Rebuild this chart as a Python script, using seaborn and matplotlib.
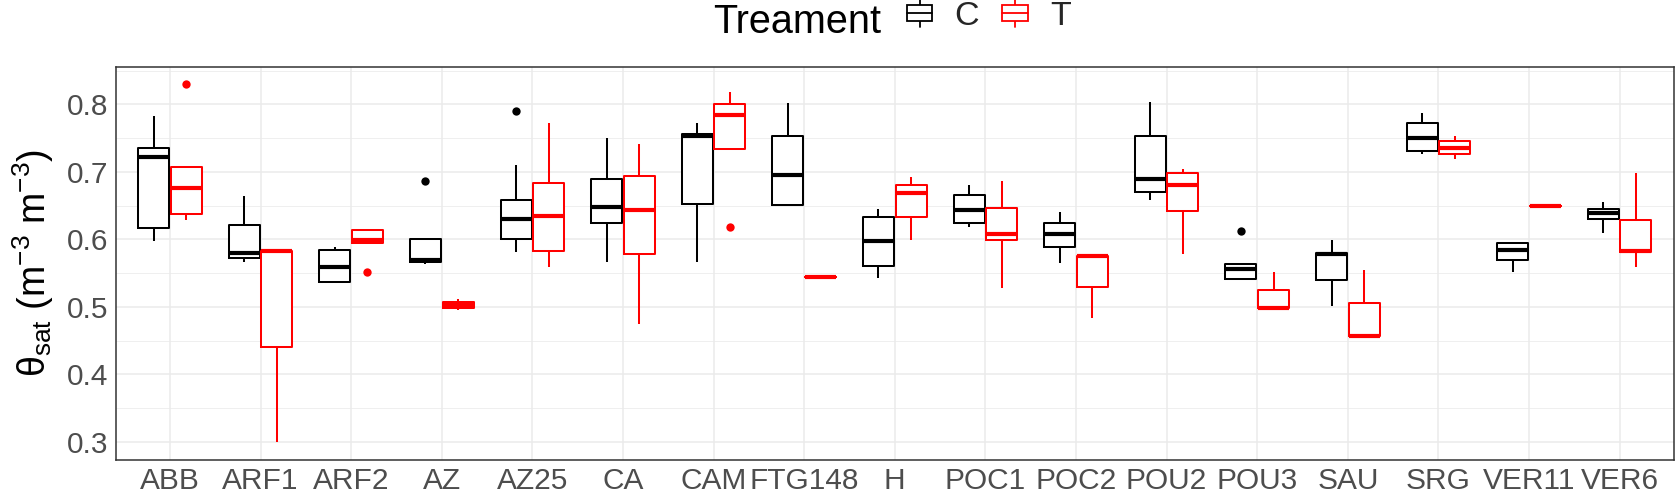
import numpy as np
import pandas as pd
import matplotlib
matplotlib.use("Agg")
import matplotlib.pyplot as plt
import seaborn as sns
from matplotlib.legend_handler import HandlerBase
from matplotlib.lines import Line2D
from matplotlib.patches import Rectangle

# ---------------- data ----------------
sites = ["ABB", "ARF1", "ARF2", "AZ", "AZ25", "CA", "CAM", "FTG148", "H",
         "POC1", "POC2", "POU2", "POU3", "SAU", "SRG", "VER11", "VER6"]
treatments = ["C", "T"]
treatment_colors = ["black", "red"]

control_values = [
    [0.598, 0.617, 0.722, 0.736, 0.783],                          # ABB
    [0.566, 0.572, 0.580, 0.622, 0.664],                          # ARF1
    [0.537, 0.537, 0.559, 0.584, 0.589],                          # ARF2
    [0.563, 0.567, 0.569, 0.600, 0.686],                          # AZ
    [0.582, 0.590, 0.600, 0.615, 0.630, 0.645, 0.659, 0.710, 0.790],  # AZ25
    [0.566, 0.625, 0.648, 0.689, 0.751],                          # CA
    [0.566, 0.652, 0.754, 0.756, 0.773],                          # CAM
    [0.651, 0.651, 0.695, 0.753, 0.802],                          # FTG148
    [0.543, 0.561, 0.598, 0.633, 0.645],                          # H
    [0.619, 0.624, 0.643, 0.666, 0.681],                          # POC1
    [0.565, 0.588, 0.608, 0.625, 0.640],                          # POC2
    [0.658, 0.671, 0.690, 0.753, 0.803],                          # POU2
    [0.541, 0.541, 0.556, 0.564, 0.612],                          # POU3
    [0.501, 0.540, 0.578, 0.580, 0.599],                          # SAU
    [0.727, 0.731, 0.750, 0.773, 0.787],                          # SRG
    [0.551, 0.569, 0.585, 0.594, 0.594],                          # VER11
    [0.610, 0.630, 0.639, 0.645, 0.656],                          # VER6
]
treated_values = [
    [0.629, 0.637, 0.676, 0.707, 0.830],                          # ABB
    [0.299, 0.583, 0.583],                                        # ARF1
    [0.552, 0.594, 0.599, 0.614, 0.615],                          # ARF2
    [0.495, 0.498, 0.503, 0.507, 0.511],                          # AZ
    [0.559, 0.583, 0.634, 0.684, 0.773],                          # AZ25
    [0.475, 0.578, 0.644, 0.694, 0.742],                          # CA
    [0.619, 0.734, 0.784, 0.801, 0.818],                          # CAM
    [0.545],                                                      # FTG148
    [0.599, 0.633, 0.669, 0.680, 0.693],                          # H
    [0.528, 0.599, 0.608, 0.647, 0.687],                          # POC1
    [0.483, 0.576, 0.576],                                        # POC2
    [0.579, 0.642, 0.680, 0.698, 0.704],                          # POU2
    [0.498, 0.498, 0.552],                                        # POU3
    [0.457, 0.457, 0.555],                                        # SAU
    [0.719, 0.727, 0.736, 0.746, 0.754],                          # SRG
    [0.649],                                                      # VER11
    [0.559, 0.581, 0.583, 0.629, 0.698],                          # VER6
]
y_ticks = [0.3, 0.4, 0.5, 0.6, 0.7, 0.8]
y_minor = [0.35, 0.45, 0.55, 0.65, 0.75, 0.85]

# ---------------- style ----------------
sns.set_theme(style="whitegrid")
plt.rcParams["font.family"] = ["Liberation Sans", "DejaVu Sans"]
plt.rcParams["mathtext.fontset"] = "custom"
plt.rcParams["mathtext.rm"] = "Liberation Sans"
plt.rcParams["mathtext.it"] = "Liberation Sans:italic"
plt.rcParams["mathtext.default"] = "regular"

rows = []
for site, cv, tv in zip(sites, control_values, treated_values):
    for v in cv:
        rows.append((site, "C", v))
    for v in tv:
        rows.append((site, "T", v))
df = pd.DataFrame(rows, columns=["site", "treatment", "value"])

W, H = 1676, 494
fig = plt.figure(figsize=(W / 100, H / 100), dpi=100)
fig.patch.set_facecolor("white")
ax = fig.add_axes([115.6 / W, 1 - 460 / H, (1674 - 115.6) / W, (460 - 66.7) / H])
ax.set_facecolor("white")
ax.set_axisbelow(True)

common = dict(data=df, x="site", y="value", hue="treatment", order=sites,
              hue_order=treatments, width=0.72, gap=0.05, whis=1.5, ax=ax,
              legend=False)
# white background fill of the boxes
sns.boxplot(**common, palette=["white", "white"], fill=True, linewidth=0,
            showfliers=False, showcaps=False, saturation=1)
# coloured outlines, medians, whiskers, outliers
sns.boxplot(**common, palette=dict(zip(treatments, treatment_colors)),
            fill=False, linewidth=1.45, showcaps=False,
            flierprops=dict(marker="o", markersize=6, markeredgewidth=0),
            medianprops=dict(linewidth=3.0))

for ln in ax.lines:
    if ln.get_marker() == "o":
        c = ln.get_markeredgecolor()
        ln.set_markerfacecolor(c)
        ln.set_markeredgecolor(c)

ax.set_xlim(-0.6, len(sites) - 1 + 0.6)
ax.set_ylim(0.273, 0.856)
ax.set_yticks(y_ticks)
ax.set_yticklabels([f"{v:.1f}" for v in y_ticks])
ax.set_yticks(y_minor, minor=True)
ax.grid(True, which="major", color="#EBEBEB", linewidth=1.1)
ax.grid(True, which="minor", axis="y", color="#EBEBEB", linewidth=0.55)
for s in ax.spines.values():
    s.set_visible(True)
    s.set_color("#333333")
    s.set_linewidth(1.1)
ax.tick_params(axis="both", which="major", length=2.6, width=1.0, color="#333333",
               labelcolor="#4D4D4D", labelsize=21.5, pad=2.5)
ax.tick_params(axis="both", which="minor", length=0)
ax.set_xlabel("")
ax.set_ylabel(r"θ$_{sat}$ (m$^{-3}$ m$^{-3}$)", fontsize=27, color="black", labelpad=8)


class BoxHandler(HandlerBase):
    def create_artists(self, legend, orig_handle, xdescent, ydescent, width,
                       height, fontsize, trans):
        c = orig_handle.get_color()
        x0, y0 = -xdescent, -ydescent
        lw = 1.3
        cx = x0 + width / 2
        arts = [
            Line2D([cx, cx], [y0, y0 + height], color=c, lw=lw, transform=trans),
            Rectangle((x0, y0 + 0.2 * height), width, 0.6 * height, facecolor="white",
                      edgecolor=c, lw=lw, transform=trans),
            Line2D([x0, x0 + width], [y0 + 0.5 * height] * 2, color=c, lw=lw,
                   transform=trans),
        ]
        return arts


fig.text(713 / W, 1 - 33.3 / H, "Treament", fontsize=28.5, color="black", va="baseline")
handles = [Line2D([], [], color=c) for c in treatment_colors]
fig.legend(handles, treatments, ncol=2, loc="center left",
           bbox_to_anchor=(907 / W, 1 - 16 / H), frameon=False, fontsize=24.5,
           handler_map={Line2D: BoxHandler()}, handlelength=0.74, handleheight=0.83,
           handletextpad=0.66, columnspacing=0.68, borderpad=0, borderaxespad=0)

fig.savefig("out.png", dpi=100, facecolor="white")
